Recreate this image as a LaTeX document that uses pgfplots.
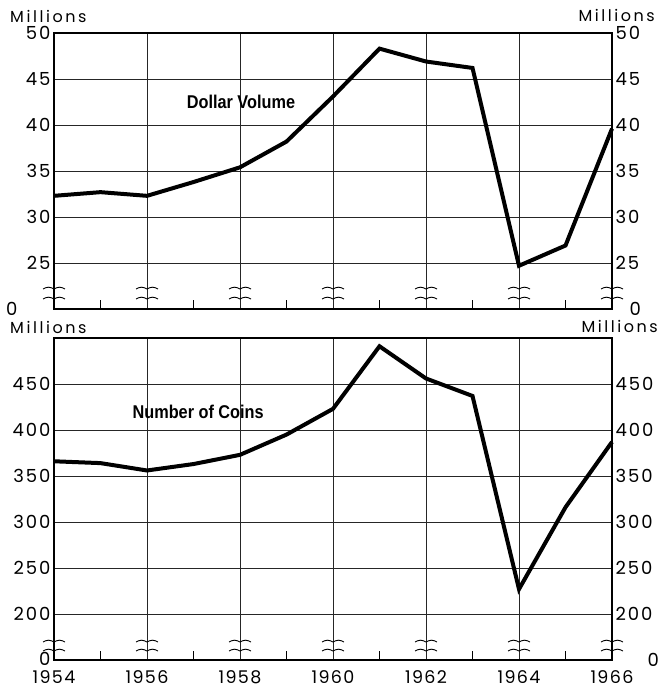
\documentclass[border=0pt]{standalone}
\usepackage{pgfplots}
\pgfplotsset{compat=1.18}
\usepackage{fontspec}
\setmainfont{Poppins}
\newfontfamily\tickfont[LetterSpace=11]{Poppins}
\newfontfamily\yearfont[LetterSpace=8]{Poppins}
\newfontfamily\milfont[LetterSpace=16]{Poppins}
\newfontfamily\lblfont[FakeStretch=0.88]{Liberation Sans}
\tikzset{wv/.style={line width=0.9pt, black}}
\begin{document}
\begin{tikzpicture}[x=1pt,y=1pt]
\useasboundingbox (0,0) rectangle (658,691);
\pgfplotsset{
  base/.style={
    scale only axis, width=558pt,
    clip=false,
    xmin=1954, xmax=1966,
    xtick={1954,1956,...,1966},
    minor xtick={1955,1957,...,1965},
    xtick pos=left,
    ytick pos=left,
    major tick length=0pt,
    minor tick length=9pt,
    tick align=inside,
    minor tick style={line width=1pt, black},
    xmajorgrids, ymajorgrids,
    grid style={black!85, line width=0.6pt},
    axis line style={line width=1.3pt},
    yticklabel style={font=\tickfont\fontsize{18}{18}\selectfont},
    xticklabel style={font=\yearfont\fontsize{17.5}{17.5}\selectfont, inner sep=1pt, text depth=0pt, yshift=-9pt},
  },
  rightax/.style={
    scale only axis, width=558pt,
    xmin=1954, xmax=1966,
    hide x axis,
    axis y line*=right,
    ytick pos=right, yticklabel pos=right,
    major tick length=0pt,
    axis line style={line width=1.3pt},
    yticklabel style={font=\tickfont\fontsize{18}{18}\selectfont},
  },
}
% ---------- top panel ----------
\begin{axis}[base, at={(54pt,382pt)}, anchor=south west, height=276pt,
  ymin=20, ymax=50,
  ytick={20,25,30,35,40,45,50},
  yticklabels={0\rule{33pt}{0pt},25,30,35,40,45,50},
  xticklabels={}]
\addplot[black, line width=4pt, line join=miter] coordinates {
 (1954,32.3) (1955,32.7) (1956,32.3) (1957,33.8) (1958,35.4) (1959,38.2)
 (1960,43.1) (1961,48.3) (1962,46.9) (1963,46.2) (1964,24.7) (1965,26.9) (1966,39.6)};
\node[font=\lblfont\bfseries\fontsize{18.5}{18.5}\selectfont] at (axis cs:1958.02,42.5) {Dollar Volume};
\pgfplotsinvokeforeach{1954,1956,...,1966}{
  \draw[wv] (axis cs:#1,20) ++(-11pt,20pt) sin ++(5.5pt,1.8pt) cos ++(5.5pt,-1.8pt) sin ++(5.5pt,1.8pt) cos ++(5.5pt,-1.8pt);
  \draw[wv] (axis cs:#1,20) ++(-11pt,10pt) sin ++(5.5pt,1.8pt) cos ++(5.5pt,-1.8pt) sin ++(5.5pt,1.8pt) cos ++(5.5pt,-1.8pt);
}
\node[font=\milfont\fontsize{16}{16}\selectfont, anchor=base west, inner sep=0pt] at ([xshift=-44pt,yshift=10pt]rel axis cs:0,1) {Millions};
\node[font=\milfont\fontsize{16}{16}\selectfont, anchor=base east, inner sep=0pt] at ([xshift=43pt,yshift=11pt]rel axis cs:1,1) {Millions};
\end{axis}
\begin{axis}[rightax, at={(54pt,382pt)}, anchor=south west, height=276pt,
  ymin=20, ymax=50,
  ytick={20,25,30,35,40,45,50},
  yticklabels={\rule{14pt}{0pt}0,25,30,35,40,45,50}]
\end{axis}
% ---------- bottom panel ----------
\begin{axis}[base, at={(54pt,31pt)}, anchor=south west, height=322pt,
  ymin=150, ymax=500,
  ytick={150,200,250,300,350,400,450},
  yticklabels={\raisebox{2.5pt}{0},200,250,300,350,400,450},
  xticklabels={1954,1956,1958,1960,1962,1964,1966}]
\addplot[black, line width=4pt, line join=miter] coordinates {
 (1954,366) (1955,364) (1956,356) (1957,363) (1958,373) (1959,395)
 (1960,423) (1961,491) (1962,456) (1963,437) (1964,227) (1965,316) (1966,387)};
\node[font=\lblfont\bfseries\fontsize{18.5}{18.5}\selectfont] at (axis cs:1957.1,420) {Number of Coins};
\pgfplotsinvokeforeach{1954,1956,...,1966}{
  \draw[wv] (axis cs:#1,150) ++(-11pt,18pt) sin ++(5.5pt,1.8pt) cos ++(5.5pt,-1.8pt) sin ++(5.5pt,1.8pt) cos ++(5.5pt,-1.8pt);
  \draw[wv] (axis cs:#1,150) ++(-11pt,9pt) sin ++(5.5pt,1.8pt) cos ++(5.5pt,-1.8pt) sin ++(5.5pt,1.8pt) cos ++(5.5pt,-1.8pt);
}
\node[font=\milfont\fontsize{16}{16}\selectfont, anchor=base west, inner sep=0pt] at ([xshift=-44pt,yshift=4pt]rel axis cs:0,1) {Millions};
\node[font=\milfont\fontsize{16}{16}\selectfont, anchor=base east, inner sep=0pt] at ([xshift=46pt,yshift=5pt]rel axis cs:1,1) {Millions};
\end{axis}
\begin{axis}[rightax, at={(54pt,31pt)}, anchor=south west, height=322pt,
  ymin=150, ymax=500,
  ytick={150,200,250,300,350,400,450},
  yticklabels={\rule{32pt}{0pt}0,200,250,300,350,400,450}]
\end{axis}
\end{tikzpicture}
\end{document}
